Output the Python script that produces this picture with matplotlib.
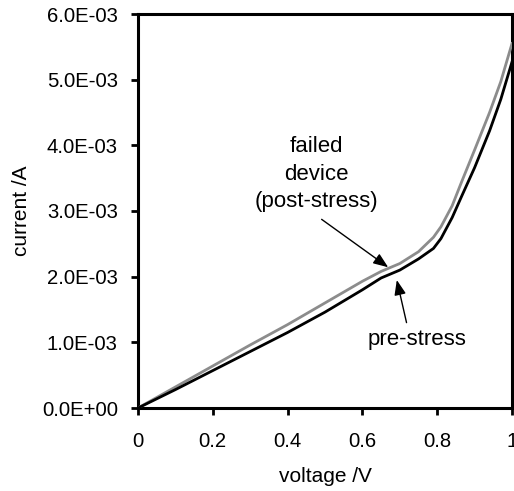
import matplotlib
matplotlib.use("Agg")
import matplotlib.pyplot as plt
from matplotlib.ticker import FuncFormatter, MultipleLocator
import numpy as np

plt.rcParams['font.family'] = ['Liberation Sans', 'DejaVu Sans']

voltage = [0, 0.1, 0.2, 0.3, 0.4, 0.5, 0.6, 0.65, 0.7, 0.75, 0.79, 0.81, 0.84, 0.865, 0.9, 0.94, 0.97, 1.0]
pre_stress_mA = [0, 0.28, 0.57, 0.86, 1.15, 1.46, 1.80, 1.98, 2.10, 2.27, 2.43, 2.58, 2.90, 3.22, 3.66, 4.22, 4.70, 5.27]
post_stress_mA = [0, 0.32, 0.64, 0.96, 1.27, 1.60, 1.93, 2.08, 2.20, 2.38, 2.60, 2.76, 3.08, 3.44, 3.93, 4.50, 4.97, 5.55]

FS_TICK = 14.6
FS_LABEL = 15
FS_NOTE = 16
fig = plt.figure(figsize=(5.14, 4.91), dpi=100)
ax = fig.add_axes([138/514, 1-408/491, 374/514, 394/491])

ax.plot(voltage, np.array(post_stress_mA)*1e-3, color='#8c8c8c', lw=2.0, zorder=3)
ax.plot(voltage, np.array(pre_stress_mA)*1e-3, color='black', lw=2.0, zorder=4)

ax.set_xlim(0, 1)
ax.set_ylim(0, 6e-3)
ax.xaxis.set_major_locator(MultipleLocator(0.2))
ax.yaxis.set_major_locator(MultipleLocator(1e-3))
ax.xaxis.set_major_formatter(FuncFormatter(lambda v, p: f"{v:g}"))
ax.yaxis.set_major_formatter(FuncFormatter(lambda v, p: f"{v:.1E}"))
for s in ax.spines.values():
    s.set_linewidth(2.2)
ax.tick_params(direction='out', length=5, width=2, labelsize=FS_TICK)
ax.tick_params(axis='x', pad=12.5)
ax.tick_params(axis='y', pad=9.5)

ax.set_xlabel('voltage /V', fontsize=FS_LABEL, labelpad=11)
ax.set_ylabel('current /A', fontsize=FS_LABEL, labelpad=8)

arrow_kw = dict(arrowstyle='-|>,head_length=0.9,head_width=0.35', color='black', lw=1,
                shrinkA=0, shrinkB=0)
ax.text(0.476, 3.56e-3, 'failed\ndevice\n(post-stress)', fontsize=FS_NOTE, ha='center', va='center',
        linespacing=1.4)
ax.annotate('', xy=(0.669, 2.143e-3), xytext=(0.491, 2.873e-3), arrowprops=arrow_kw, zorder=5)
ax.annotate('', xy=(0.692, 1.949e-3), xytext=(0.718, 1.30e-3), arrowprops=arrow_kw, zorder=5)
ax.text(0.746, 1.05e-3, 'pre-stress', fontsize=FS_NOTE, ha='center', va='center')

fig.savefig('out.png', dpi=100)
